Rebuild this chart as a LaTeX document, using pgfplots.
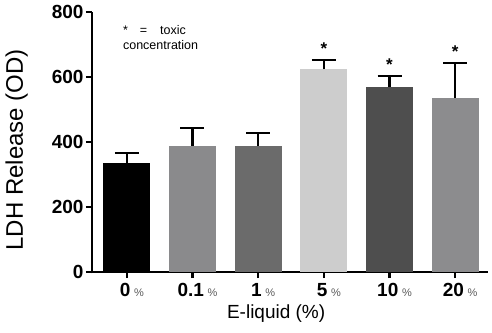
\documentclass[border=0pt]{standalone}
\usepackage{pgfplots}
\pgfplotsset{compat=1.18}
\usepackage{fontspec}
\setmainfont{Liberation Sans}
\definecolor{cA}{HTML}{000000}
\definecolor{cB}{HTML}{8A8A8C}
\definecolor{cC}{HTML}{6B6B6B}
\definecolor{cD}{HTML}{CDCDCD}
\definecolor{cE}{HTML}{4E4E4E}
\definecolor{cF}{HTML}{8C8C8E}
\newcommand{\pct}{{\fontsize{11}{11}\selectfont\color{black!65}\,\,\%}}
\begin{document}
\begin{tikzpicture}
\path[use as bounding box] (-92pt,-60pt) rectangle (400pt,272pt);
\begin{axis}[
  at={(0pt,0pt)}, anchor=south west,
  scale only axis, width=396pt, height=260pt,
  xmin=-0.53, xmax=5.5, ymin=0, ymax=800,
  axis x line*=bottom, axis y line*=left,
  axis line style={line width=2.6pt, shorten <=-1.3pt},
  xtick={0,1,2,3,4,5},
  xticklabels={{\textbf{0}\pct},{\textbf{0.1}\pct},{\textbf{1}\pct},{\textbf{5}\pct},{\textbf{10}\pct},{\textbf{20}\pct}},
  ytick={0,200,400,600,800},
  yticklabels={\textbf{0},\textbf{200},\textbf{400},\textbf{600},\textbf{800}},
  tick style={line width=2.4pt, black},
  major tick length=6pt,
  tick align=outside,
  x tick label style={font=\fontsize{19}{19}\selectfont, yshift=-2pt, xshift=5pt},
  y tick label style={font=\fontsize{19}{19}\selectfont, xshift=1pt},
  ylabel={LDH Release (OD)},
  xlabel={E-liquid (\%)},
  ylabel style={font=\fontsize{24}{24}\selectfont, at={(axis description cs:-0.19,0.47)}, anchor=center},
  xlabel style={font=\fontsize{19}{19}\selectfont, at={(axis description cs:0.465,-0.16)}, anchor=center},
  clip=false,
]
\addplot[ybar, bar width=47pt, bar shift=0pt, fill=cA, draw=none,
  error bars/.cd, y dir=plus, y explicit,
  error bar style={line width=2.4pt, black},
  error mark options={rotate=90, line width=2.4pt, mark size=12pt, black}]
  coordinates {(0,335) +- (0,31)};
\addplot[ybar, bar width=47pt, bar shift=0pt, fill=cB, draw=none,
  error bars/.cd, y dir=plus, y explicit,
  error bar style={line width=2.4pt, black},
  error mark options={rotate=90, line width=2.4pt, mark size=12pt, black}]
  coordinates {(1,388) +- (0,55)};
\addplot[ybar, bar width=47pt, bar shift=0pt, fill=cC, draw=none,
  error bars/.cd, y dir=plus, y explicit,
  error bar style={line width=2.4pt, black},
  error mark options={rotate=90, line width=2.4pt, mark size=12pt, black}]
  coordinates {(2,388) +- (0,40)};
\addplot[ybar, bar width=47pt, bar shift=0pt, fill=cD, draw=none,
  error bars/.cd, y dir=plus, y explicit,
  error bar style={line width=2.4pt, black},
  error mark options={rotate=90, line width=2.4pt, mark size=12pt, black}]
  coordinates {(3,624) +- (0,28)};
\addplot[ybar, bar width=47pt, bar shift=0pt, fill=cE, draw=none,
  error bars/.cd, y dir=plus, y explicit,
  error bar style={line width=2.4pt, black},
  error mark options={rotate=90, line width=2.4pt, mark size=12pt, black}]
  coordinates {(4,569) +- (0,34)};
\addplot[ybar, bar width=47pt, bar shift=0pt, fill=cF, draw=none,
  error bars/.cd, y dir=plus, y explicit,
  error bar style={line width=2.4pt, black},
  error mark options={rotate=90, line width=2.4pt, mark size=12pt, black}]
  coordinates {(5,535) +- (0,108)};
% significance stars above error bars
\addplot[draw=none, mark=none, nodes near coords={\textbf{*}},
  every node near coord/.append style={font=\fontsize{17}{17}\selectfont, anchor=south, yshift=2pt}]
  coordinates {(3,652) (4,603) (5,643)};
\node[anchor=north west, align=left, font=\fontsize{12.5}{15}\selectfont, inner sep=0pt]
  at (axis cs:-0.06,758) {*\hspace*{12pt}=\hspace*{13pt}toxic\\concentration};
\end{axis}
\end{tikzpicture}
\end{document}
